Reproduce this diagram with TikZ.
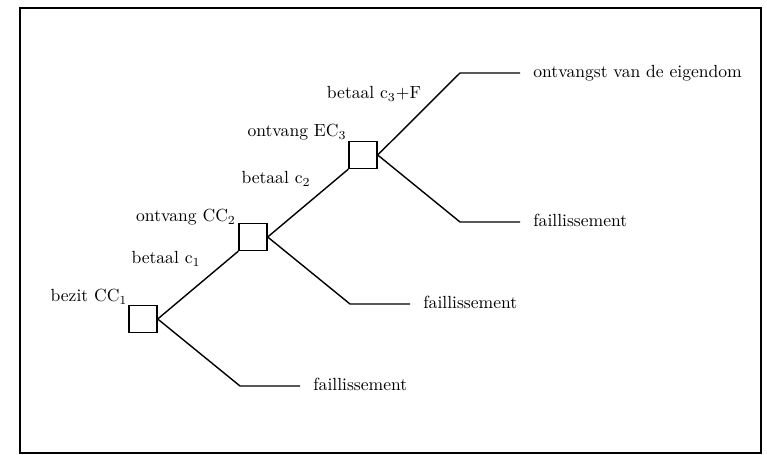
\documentclass[tikz,border=0pt]{standalone}
\usepackage{tikz}

\tikzset{
  stage/.style={draw, line width=0.8pt, minimum width=0.56cm, minimum height=0.54cm, inner sep=0pt},
  endlabel/.style={anchor=west, inner xsep=0.26cm, inner ysep=0pt, text height=1.5ex, text depth=0.25ex},
  movelabel/.style={inner sep=0pt, text height=1.5ex, text depth=0.25ex}
}

\begin{document}
\begin{tikzpicture}[x=0.02cm, y=-0.02cm]
    \useasboundingbox (0, 0) rectangle (767, 455);
    \draw [line width=1pt] (20, 8) rectangle (761, 453);
    % decision points
    \node [stage] (b1) at (143, 319) {};
    \node [stage] (b2) at (253, 237) {};
    \node [stage] (b3) at (363, 155) {};
    % corners of the branches
    \coordinate (k1) at (240, 386);
    \coordinate (k2) at (350, 304);
    \coordinate (k3) at (460, 222);
    \coordinate (k4) at (460, 73);
    % outcomes
    \node [endlabel] (f1) at (300, 386) {faillissement};
    \node [endlabel] (f2) at (410, 304) {faillissement};
    \node [endlabel] (f3) at (520, 222) {faillissement};
    \node [endlabel] (own) at (520, 73) {ontvangst van de eigendom};
    % moves
    \node [movelabel] (hold1) at (89, 297) {bezit CC$_1$};
    \node [movelabel] (pay1) at (166, 259) {betaal c$_1$};
    \node [movelabel] (get2) at (186, 217) {ontvang CC$_2$};
    \node [movelabel] (pay2) at (276, 179) {betaal c$_2$};
    \node [movelabel] (get3) at (297, 132) {ontvang EC$_3$};
    \node [movelabel] (pay3) at (374, 94) {betaal c$_3$+F};
    % branches
    \draw [line width=0.8pt] (b1.east) -- (b2.south west);
    \draw [line width=0.8pt] (b1.east) -- (k1) -- (f1.west);
    \draw [line width=0.8pt] (b2.east) -- (b3.south west);
    \draw [line width=0.8pt] (b2.east) -- (k2) -- (f2.west);
    \draw [line width=0.8pt] (b3.east) -- (k4) -- (own.west);
    \draw [line width=0.8pt] (b3.east) -- (k3) -- (f3.west);
\end{tikzpicture}
\end{document}
